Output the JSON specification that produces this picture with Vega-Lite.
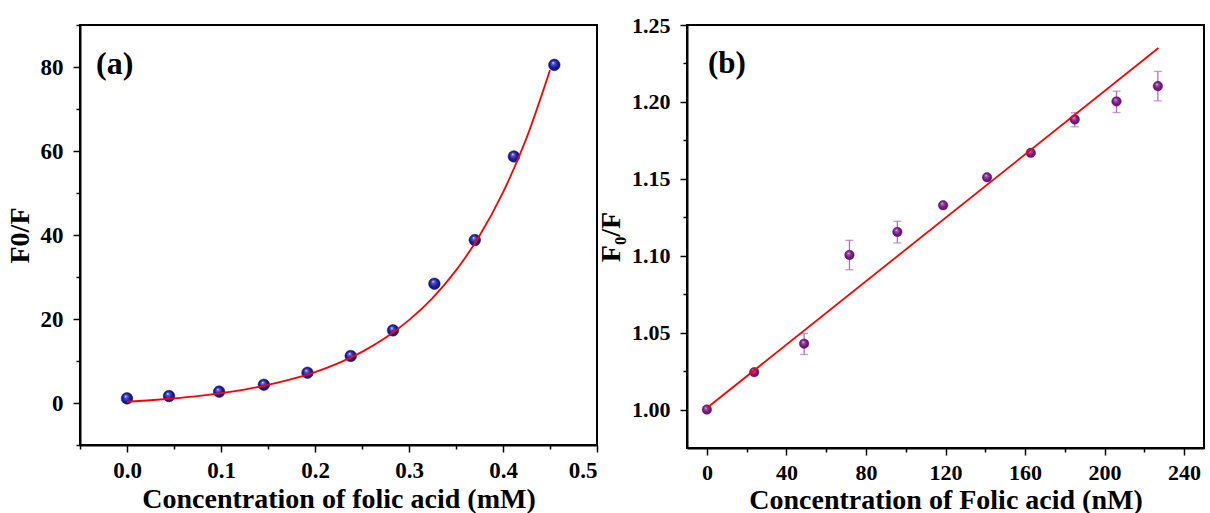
{
  "$schema": "https://vega.github.io/schema/vega-lite/v6.json",
  "background": "white",
  "padding": {"left": 5, "top": 13, "right": 0, "bottom": 0},
  "bounds": "flush",
  "spacing": 90,
  "config": {
    "view": {"stroke": "black", "strokeWidth": 2},
    "font": "Liberation Serif",
    "axis": {
      "grid": false,
      "domainColor": "black",
      "domainWidth": 2,
      "tickColor": "black",
      "tickWidth": 1.5,
      "tickSize": 7,
      "labelFont": "Liberation Serif",
      "labelFontWeight": 700,
      "labelFontSize": 23,
      "labelColor": "black",
      "labelPadding": 4,
      "titleFont": "Liberation Serif",
      "titleFontWeight": 700,
      "titleFontSize": 28,
      "titleColor": "black",
      "titlePadding": 4
    },
    "axisX": {"labelPadding": 7, "titlePadding": 3},
    "axisY": {"labelPadding": 10, "titlePadding": 6}
  },
  "datasets": {
    "a_pts": [
      {"c": 0.0, "r": 1.1},
      {"c": 0.0447, "r": 1.66},
      {"c": 0.098, "r": 2.7},
      {"c": 0.1456, "r": 4.35},
      {"c": 0.192, "r": 7.2},
      {"c": 0.238, "r": 11.2},
      {"c": 0.283, "r": 17.3},
      {"c": 0.327, "r": 28.4},
      {"c": 0.370, "r": 38.8},
      {"c": 0.4116, "r": 58.7},
      {"c": 0.4546, "r": 80.5}
    ],
    "a_fit": [
      {"c": 0.0, "r": 0.3},
      {"c": 0.025, "r": 0.65},
      {"c": 0.05, "r": 1.1},
      {"c": 0.075, "r": 1.65},
      {"c": 0.1, "r": 2.34},
      {"c": 0.125, "r": 3.21},
      {"c": 0.15, "r": 4.3},
      {"c": 0.175, "r": 5.66},
      {"c": 0.2, "r": 7.37},
      {"c": 0.225, "r": 9.51},
      {"c": 0.25, "r": 12.18},
      {"c": 0.275, "r": 15.53},
      {"c": 0.3, "r": 19.73},
      {"c": 0.325, "r": 24.98},
      {"c": 0.35, "r": 31.57},
      {"c": 0.375, "r": 39.81},
      {"c": 0.4, "r": 50.14},
      {"c": 0.425, "r": 63.06},
      {"c": 0.45, "r": 79.26}
    ],
    "a_lab": [{"x": -0.033, "y": 80.7, "label": "(a)"}],
    "b_pts": [
      {"c": 0, "r": 1.000, "lo": 0.999, "hi": 1.001},
      {"c": 23.8, "r": 1.0243, "lo": 1.0233, "hi": 1.0253},
      {"c": 48.9, "r": 1.0428, "lo": 1.0358, "hi": 1.0495},
      {"c": 71.7, "r": 1.1005, "lo": 1.0909, "hi": 1.1100},
      {"c": 95.8, "r": 1.1155, "lo": 1.1083, "hi": 1.1224},
      {"c": 118.8, "r": 1.1328, "lo": 1.1318, "hi": 1.1338},
      {"c": 140.9, "r": 1.1510, "lo": 1.1500, "hi": 1.1520},
      {"c": 162.9, "r": 1.1669, "lo": 1.1659, "hi": 1.1679},
      {"c": 185.0, "r": 1.1886, "lo": 1.1838, "hi": 1.1930},
      {"c": 206.0, "r": 1.2003, "lo": 1.1931, "hi": 1.2070},
      {"c": 226.8, "r": 1.2103, "lo": 1.2007, "hi": 1.2198}
    ],
    "b_fit": [
      {"c": 0, "r": 1.001},
      {"c": 227.1, "r": 1.235}
    ],
    "b_lab": [{"x": 0.5, "y": 1.2246, "label": "(b)"}]
  },
  "hconcat": [
    {
      "width": 517,
      "height": 420,
      "layer": [
        {
          "data": {"name": "a_pts"},
          "mark": {
            "type": "point",
            "filled": true,
            "size": 135,
            "opacity": 1,
            "fill": {
              "gradient": "radial",
              "x1": 0.38, "y1": 0.3, "r1": 0,
              "x2": 0.5, "y2": 0.5, "r2": 0.55,
              "stops": [
                {"offset": 0, "color": "#f4f4ff"},
                {"offset": 0.22, "color": "#5a5ad0"},
                {"offset": 0.6, "color": "#1c1c9e"},
                {"offset": 1, "color": "#0c0c6a"}
              ]
            },
            "stroke": "#0c0c6a",
            "strokeWidth": 0.5
          },
          "encoding": {
            "x": {
              "field": "c", "type": "quantitative",
              "scale": {"domain": [-0.05, 0.5], "nice": false, "zero": false},
              "axis": {"values": [0, 0.1, 0.2, 0.3, 0.4, 0.5], "format": ".1f", "title": "Concentration of folic acid (mM)"}
            },
            "y": {
              "field": "r", "type": "quantitative",
              "scale": {"domain": [-10, 90], "nice": false, "zero": false},
              "axis": {"values": [0, 20, 40, 60, 80], "format": "d", "title": "F0/F"}
            }
          }
        },
        {
          "data": {"name": "a_fit"},
          "mark": {"type": "line", "color": "#ff0000", "strokeWidth": 1.8, "interpolate": "monotone"},
          "encoding": {
            "x": {
              "field": "c", "type": "quantitative",
              "axis": {"orient": "bottom", "values": [-0.05, 0.05, 0.15, 0.25, 0.35, 0.45], "labels": false, "title": null, "domain": false, "tickSize": 4}
            },
            "y": {
              "field": "r", "type": "quantitative",
              "axis": {"orient": "left", "values": [-10, 10, 30, 50, 70, 90], "labels": false, "title": null, "domain": false, "tickSize": 4}
            }
          }
        },
        {
          "data": {"name": "a_lab"},
          "mark": {"type": "text", "align": "left", "baseline": "middle", "font": "Liberation Serif", "fontWeight": "bold", "fontSize": 32, "color": "black"},
          "encoding": {
            "x": {"field": "x", "type": "quantitative", "axis": null},
            "y": {"field": "y", "type": "quantitative", "axis": null},
            "text": {"field": "label"}
          }
        }
      ],
      "resolve": {"axis": {"x": "independent", "y": "independent"}}
    },
    {
      "width": 517,
      "height": 423,
      "layer": [
        {
          "data": {"name": "b_pts"},
          "mark": {"type": "errorbar", "color": "#b070c0", "thickness": 1.3, "ticks": {"size": 8, "thickness": 1.3, "color": "#b070c0"}},
          "encoding": {
            "x": {
              "field": "c", "type": "quantitative",
              "scale": {"domain": [-10, 250], "nice": false, "zero": false},
              "axis": {"values": [0, 40, 80, 120, 160, 200, 240], "format": "d", "title": "Concentration of Folic acid (nM)", "labelFontSize": 22}
            },
            "y": {
              "field": "lo", "type": "quantitative",
              "scale": {"domain": [0.975, 1.25], "nice": false, "zero": false},
              "axis": {"values": [1.0, 1.05, 1.1, 1.15, 1.2, 1.25], "format": ".2f", "title": "F₀/F", "labelFontSize": 22}
            },
            "y2": {"field": "hi"}
          }
        },
        {
          "data": {"name": "b_pts"},
          "mark": {
            "type": "point",
            "filled": true,
            "size": 90,
            "opacity": 1,
            "fill": {
              "gradient": "radial",
              "x1": 0.38, "y1": 0.3, "r1": 0,
              "x2": 0.5, "y2": 0.5, "r2": 0.55,
              "stops": [
                {"offset": 0, "color": "#fbeefc"},
                {"offset": 0.22, "color": "#a650b0"},
                {"offset": 0.6, "color": "#7a1a88"},
                {"offset": 1, "color": "#5a0c66"}
              ]
            },
            "stroke": "#5a0c66",
            "strokeWidth": 0.5
          },
          "encoding": {
            "x": {"field": "c", "type": "quantitative", "axis": null},
            "y": {"field": "r", "type": "quantitative", "axis": null}
          }
        },
        {
          "data": {"name": "b_fit"},
          "mark": {"type": "line", "color": "#ff0000", "strokeWidth": 1.8},
          "encoding": {
            "x": {
              "field": "c", "type": "quantitative",
              "axis": {"orient": "bottom", "values": [20, 60, 100, 140, 180, 220], "labels": false, "title": null, "domain": false, "tickSize": 4}
            },
            "y": {
              "field": "r", "type": "quantitative",
              "axis": {"orient": "left", "values": [1.025, 1.075, 1.125, 1.175, 1.225], "labels": false, "title": null, "domain": false, "tickSize": 4}
            }
          }
        },
        {
          "data": {"name": "b_lab"},
          "mark": {"type": "text", "align": "left", "baseline": "middle", "font": "Liberation Serif", "fontWeight": "bold", "fontSize": 31, "color": "black"},
          "encoding": {
            "x": {"field": "x", "type": "quantitative", "axis": null},
            "y": {"field": "y", "type": "quantitative", "axis": null},
            "text": {"field": "label"}
          }
        }
      ],
      "resolve": {"axis": {"x": "independent", "y": "independent"}}
    }
  ]
}
